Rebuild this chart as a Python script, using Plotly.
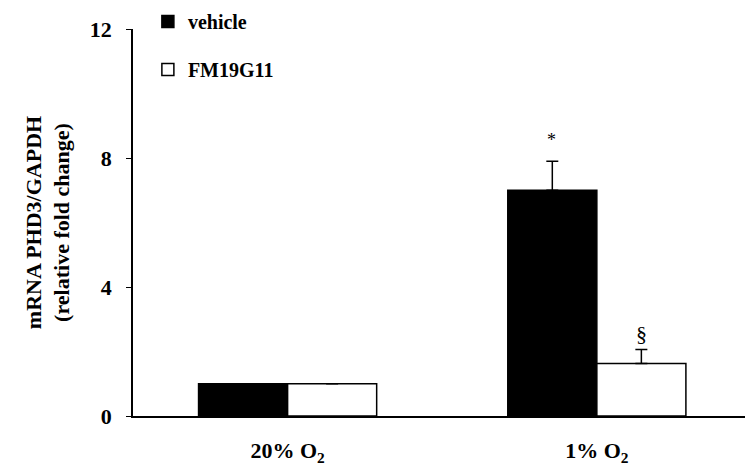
import plotly.graph_objects as go

categories = ["20% O<sub>2</sub>", "1% O<sub>2</sub>"]
vehicle = [1.0, 7.0]
vehicle_err = [0.0, 0.9]
fm = [1.0, 1.63]
fm_err = [0.0, 0.43]
y_ticks = [0, 4, 8, 12]
sig_vehicle = ["", "*"]
sig_fm = ["", "§"]

FONT = "Liberation Serif, Times New Roman, serif"

fig = go.Figure()
fig.add_trace(go.Bar(
    x=categories, y=vehicle, name="vehicle",
    marker=dict(color="black", line=dict(color="black", width=1.5)),
    error_y=dict(type="data", array=vehicle_err, arrayminus=[0, 0], symmetric=False,
                 color="black", thickness=1.5, width=6),
    legendgroup="a",
))
fig.add_trace(go.Bar(
    x=categories, y=fm, name="FM19G11",
    marker=dict(color="white", line=dict(color="black", width=1.5)),
    error_y=dict(type="data", array=fm_err, arrayminus=[0, 0], symmetric=False,
                 color="black", thickness=1.5, width=6),
    legendgroup="b",
))

# significance markers
for i, c in enumerate(categories):
    if sig_vehicle[i]:
        fig.add_annotation(x=c, y=vehicle[i] + vehicle_err[i], text=sig_vehicle[i],
                           xshift=-45, yshift=21, showarrow=False,
                           font=dict(family=FONT, size=18, color="black"))
    if sig_fm[i]:
        fig.add_annotation(x=c, y=fm[i] + fm_err[i], text=sig_fm[i],
                           xshift=45, yshift=16, showarrow=False,
                           font=dict(family=FONT, size=22, color="black"))

fig.update_layout(
    width=745, height=464,
    margin=dict(l=125, r=0, t=21, b=56, autoexpand=False),
    paper_bgcolor="white", plot_bgcolor="white",
    barmode="group", bargap=0.424, bargroupgap=0,
    font=dict(family=FONT, color="black"),
    showlegend=True,
    legend=dict(x=0.024, y=1.07, xanchor="left", yanchor="top",
                font=dict(family=FONT, size=20, color="black", weight="bold"),
                tracegroupgap=19, bgcolor="rgba(0,0,0,0)", itemwidth=30),
    xaxis=dict(showline=True, linecolor="black", linewidth=1.5, ticks="",
               range=[-0.5, 1.505], ticklabelstandoff=14,
               tickfont=dict(family=FONT, size=22, color="black", weight="bold"),
               showgrid=False, zeroline=False),
    yaxis=dict(range=[0, 12], tickvals=y_ticks, showline=True, linecolor="black",
               linewidth=1.5, ticks="outside", ticklen=5, tickcolor="black",
               ticklabelstandoff=10,
               tickfont=dict(family=FONT, size=22, color="black", weight="bold"),
               showgrid=False, zeroline=False,
               title=dict(text="mRNA PHD3/GAPDH<br>(relative fold change)",
                          font=dict(family=FONT, size=22, color="black", weight="bold"),
                          standoff=14)),
)

fig.write_html("out.html")
